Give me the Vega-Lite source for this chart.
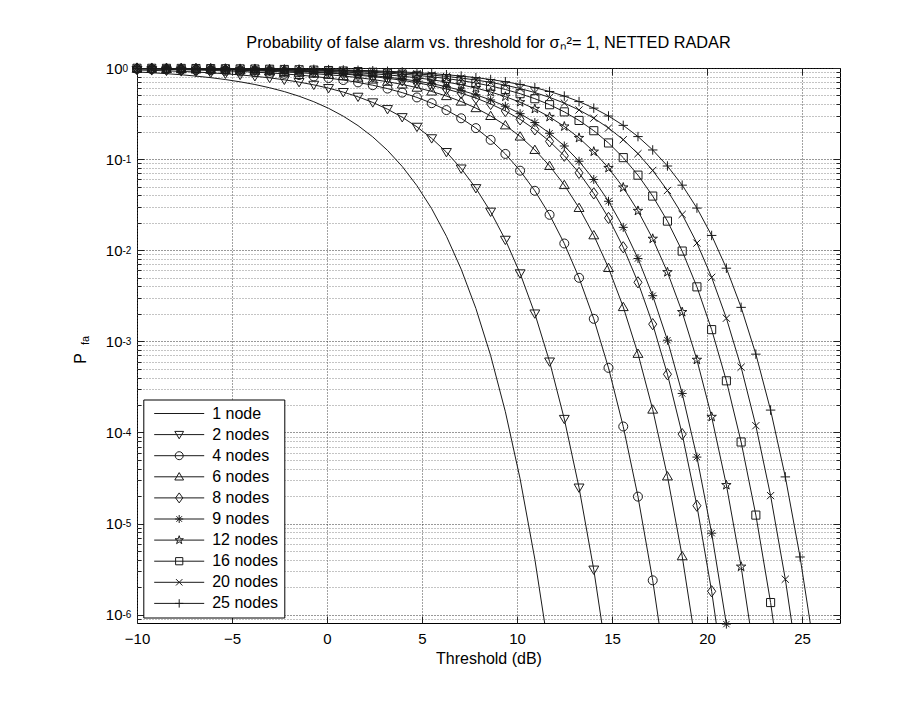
{
  "$schema": "https://vega.github.io/schema/vega-lite/v6.json",
  "autosize": {"type": "none"},
  "width": 703,
  "height": 555,
  "padding": {"left": 137, "top": 68, "right": 82, "bottom": 79},
  "background": "#ffffff",
  "title": {
    "text": "Probability of false alarm vs. threshold for σₙ²= 1, NETTED RADAR",
    "font": "Liberation Sans",
    "fontSize": 16.3,
    "fontWeight": "normal",
    "color": "#000",
    "anchor": "middle",
    "offset": 10
  },
  "data": {"values": [
    {"s":"1 node","x":-10,"p":0.9048},{"s":"1 node","x":-9.224,"p":0.8873},{"s":"1 node","x":-8.449,"p":0.8668},{"s":"1 node","x":-7.673,"p":0.8429},{"s":"1 node","x":-6.898,"p":0.8152},{"s":"1 node","x":-6.122,"p":0.7833},{"s":"1 node","x":-5.347,"p":0.7468},{"s":"1 node","x":-4.571,"p":0.7053},{"s":"1 node","x":-3.796,"p":0.6588},{"s":"1 node","x":-3.02,"p":0.6072},{"s":"1 node","x":-2.245,"p":0.5508},{"s":"1 node","x":-1.469,"p":0.4901},{"s":"1 node","x":-0.694,"p":0.4264},{"s":"1 node","x":0.082,"p":0.361},{"s":"1 node","x":0.857,"p":0.2958},{"s":"1 node","x":1.633,"p":0.2331},{"s":"1 node","x":2.408,"p":0.1753},{"s":"1 node","x":3.184,"p":0.1247},{"s":"1 node","x":3.959,"p":0.08302},{"s":"1 node","x":4.735,"p":0.05104},{"s":"1 node","x":5.51,"p":0.02853},{"s":"1 node","x":6.286,"p":0.01423},{"s":"1 node","x":7.061,"p":0.006196},{"s":"1 node","x":7.837,"p":0.002293},{"s":"1 node","x":8.612,"p":0.0006986},{"s":"1 node","x":9.388,"p":0.0001687},{"s":"1 node","x":10.163,"p":0.00003096},{"s":"1 node","x":10.939,"p":0.000004064},{"s":"1 node","x":11.714,"p":3.588e-7},
    {"s":"2 nodes","x":-10,"p":0.9512},{"s":"2 nodes","x":-9.224,"p":0.942},{"s":"2 nodes","x":-8.449,"p":0.931},{"s":"2 nodes","x":-7.673,"p":0.9181},{"s":"2 nodes","x":-6.898,"p":0.9029},{"s":"2 nodes","x":-6.122,"p":0.8851},{"s":"2 nodes","x":-5.347,"p":0.8642},{"s":"2 nodes","x":-4.571,"p":0.8399},{"s":"2 nodes","x":-3.796,"p":0.8117},{"s":"2 nodes","x":-3.02,"p":0.7793},{"s":"2 nodes","x":-2.245,"p":0.7422},{"s":"2 nodes","x":-1.469,"p":0.7001},{"s":"2 nodes","x":-0.694,"p":0.653},{"s":"2 nodes","x":0.082,"p":0.6008},{"s":"2 nodes","x":0.857,"p":0.5438},{"s":"2 nodes","x":1.633,"p":0.4828},{"s":"2 nodes","x":2.408,"p":0.4187},{"s":"2 nodes","x":3.184,"p":0.3532},{"s":"2 nodes","x":3.959,"p":0.2881},{"s":"2 nodes","x":4.735,"p":0.2259},{"s":"2 nodes","x":5.51,"p":0.1689},{"s":"2 nodes","x":6.286,"p":0.1193},{"s":"2 nodes","x":7.061,"p":0.07871},{"s":"2 nodes","x":7.837,"p":0.04788},{"s":"2 nodes","x":8.612,"p":0.02643},{"s":"2 nodes","x":9.388,"p":0.01299},{"s":"2 nodes","x":10.163,"p":0.005564},{"s":"2 nodes","x":10.939,"p":0.002016},{"s":"2 nodes","x":11.714,"p":0.0005989},{"s":"2 nodes","x":12.49,"p":0.0001404},{"s":"2 nodes","x":13.265,"p":0.00002477},{"s":"2 nodes","x":14.041,"p":0.000003114},{"s":"2 nodes","x":14.816,"p":2.61e-7},
    {"s":"4 nodes","x":-10,"p":0.9753},{"s":"4 nodes","x":-9.224,"p":0.9706},{"s":"4 nodes","x":-8.449,"p":0.9649},{"s":"4 nodes","x":-7.673,"p":0.9582},{"s":"4 nodes","x":-6.898,"p":0.9502},{"s":"4 nodes","x":-6.122,"p":0.9408},{"s":"4 nodes","x":-5.347,"p":0.9296},{"s":"4 nodes","x":-4.571,"p":0.9164},{"s":"4 nodes","x":-3.796,"p":0.9009},{"s":"4 nodes","x":-3.02,"p":0.8827},{"s":"4 nodes","x":-2.245,"p":0.8615},{"s":"4 nodes","x":-1.469,"p":0.8367},{"s":"4 nodes","x":-0.694,"p":0.8081},{"s":"4 nodes","x":0.082,"p":0.7751},{"s":"4 nodes","x":0.857,"p":0.7374},{"s":"4 nodes","x":1.633,"p":0.6948},{"s":"4 nodes","x":2.408,"p":0.6471},{"s":"4 nodes","x":3.184,"p":0.5943},{"s":"4 nodes","x":3.959,"p":0.5368},{"s":"4 nodes","x":4.735,"p":0.4753},{"s":"4 nodes","x":5.51,"p":0.411},{"s":"4 nodes","x":6.286,"p":0.3454},{"s":"4 nodes","x":7.061,"p":0.2806},{"s":"4 nodes","x":7.837,"p":0.2188},{"s":"4 nodes","x":8.612,"p":0.1626},{"s":"4 nodes","x":9.388,"p":0.114},{"s":"4 nodes","x":10.163,"p":0.07459},{"s":"4 nodes","x":10.939,"p":0.0449},{"s":"4 nodes","x":11.714,"p":0.02447},{"s":"4 nodes","x":12.49,"p":0.01185},{"s":"4 nodes","x":13.265,"p":0.004977},{"s":"4 nodes","x":14.041,"p":0.001765},{"s":"4 nodes","x":14.816,"p":0.0005109},{"s":"4 nodes","x":15.592,"p":0.0001161},{"s":"4 nodes","x":16.367,"p":0.00001973},{"s":"4 nodes","x":17.143,"p":0.000002379},{"s":"4 nodes","x":17.918,"p":1.892e-7},
    {"s":"6 nodes","x":-10,"p":0.9835},{"s":"6 nodes","x":-9.224,"p":0.9803},{"s":"6 nodes","x":-8.449,"p":0.9765},{"s":"6 nodes","x":-7.673,"p":0.9719},{"s":"6 nodes","x":-6.898,"p":0.9665},{"s":"6 nodes","x":-6.122,"p":0.9601},{"s":"6 nodes","x":-5.347,"p":0.9525},{"s":"6 nodes","x":-4.571,"p":0.9435},{"s":"6 nodes","x":-3.796,"p":0.9328},{"s":"6 nodes","x":-3.02,"p":0.9202},{"s":"6 nodes","x":-2.245,"p":0.9054},{"s":"6 nodes","x":-1.469,"p":0.888},{"s":"6 nodes","x":-0.694,"p":0.8676},{"s":"6 nodes","x":0.082,"p":0.8438},{"s":"6 nodes","x":0.857,"p":0.8163},{"s":"6 nodes","x":1.633,"p":0.7845},{"s":"6 nodes","x":2.408,"p":0.7481},{"s":"6 nodes","x":3.184,"p":0.7069},{"s":"6 nodes","x":3.959,"p":0.6605},{"s":"6 nodes","x":4.735,"p":0.609},{"s":"6 nodes","x":5.51,"p":0.5528},{"s":"6 nodes","x":6.286,"p":0.4923},{"s":"6 nodes","x":7.061,"p":0.4286},{"s":"6 nodes","x":7.837,"p":0.3631},{"s":"6 nodes","x":8.612,"p":0.2979},{"s":"6 nodes","x":9.388,"p":0.2351},{"s":"6 nodes","x":10.163,"p":0.1772},{"s":"6 nodes","x":10.939,"p":0.1263},{"s":"6 nodes","x":11.714,"p":0.08429},{"s":"6 nodes","x":12.49,"p":0.05197},{"s":"6 nodes","x":13.265,"p":0.02915},{"s":"6 nodes","x":14.041,"p":0.0146},{"s":"6 nodes","x":14.816,"p":0.006391},{"s":"6 nodes","x":15.592,"p":0.00238},{"s":"6 nodes","x":16.367,"p":0.0007302},{"s":"6 nodes","x":17.143,"p":0.0001782},{"s":"6 nodes","x":17.918,"p":0.00003295},{"s":"6 nodes","x":18.694,"p":0.00000438},{"s":"6 nodes","x":19.469,"p":3.925e-7},
    {"s":"8 nodes","x":-10,"p":0.9876},{"s":"8 nodes","x":-9.224,"p":0.9852},{"s":"8 nodes","x":-8.449,"p":0.9823},{"s":"8 nodes","x":-7.673,"p":0.9789},{"s":"8 nodes","x":-6.898,"p":0.9748},{"s":"8 nodes","x":-6.122,"p":0.9699},{"s":"8 nodes","x":-5.347,"p":0.9642},{"s":"8 nodes","x":-4.571,"p":0.9573},{"s":"8 nodes","x":-3.796,"p":0.9492},{"s":"8 nodes","x":-3.02,"p":0.9395},{"s":"8 nodes","x":-2.245,"p":0.9282},{"s":"8 nodes","x":-1.469,"p":0.9147},{"s":"8 nodes","x":-0.694,"p":0.8989},{"s":"8 nodes","x":0.082,"p":0.8804},{"s":"8 nodes","x":0.857,"p":0.8588},{"s":"8 nodes","x":1.633,"p":0.8336},{"s":"8 nodes","x":2.408,"p":0.8044},{"s":"8 nodes","x":3.184,"p":0.7709},{"s":"8 nodes","x":3.959,"p":0.7326},{"s":"8 nodes","x":4.735,"p":0.6894},{"s":"8 nodes","x":5.51,"p":0.6411},{"s":"8 nodes","x":6.286,"p":0.5877},{"s":"8 nodes","x":7.061,"p":0.5297},{"s":"8 nodes","x":7.837,"p":0.4678},{"s":"8 nodes","x":8.612,"p":0.4032},{"s":"8 nodes","x":9.388,"p":0.3376},{"s":"8 nodes","x":10.163,"p":0.2731},{"s":"8 nodes","x":10.939,"p":0.2119},{"s":"8 nodes","x":11.714,"p":0.1565},{"s":"8 nodes","x":12.49,"p":0.1088},{"s":"8 nodes","x":13.265,"p":0.07055},{"s":"8 nodes","x":14.041,"p":0.04201},{"s":"8 nodes","x":14.816,"p":0.0226},{"s":"8 nodes","x":15.592,"p":0.01077},{"s":"8 nodes","x":16.367,"p":0.004442},{"s":"8 nodes","x":17.143,"p":0.001543},{"s":"8 nodes","x":17.918,"p":0.000435},{"s":"8 nodes","x":18.694,"p":0.00009575},{"s":"8 nodes","x":19.469,"p":0.00001568},{"s":"8 nodes","x":20.245,"p":0.000001803},{"s":"8 nodes","x":21.02,"p":1.357e-7},
    {"s":"9 nodes","x":-10,"p":0.989},{"s":"9 nodes","x":-9.224,"p":0.9868},{"s":"9 nodes","x":-8.449,"p":0.9842},{"s":"9 nodes","x":-7.673,"p":0.9812},{"s":"9 nodes","x":-6.898,"p":0.9776},{"s":"9 nodes","x":-6.122,"p":0.9732},{"s":"9 nodes","x":-5.347,"p":0.9681},{"s":"9 nodes","x":-4.571,"p":0.962},{"s":"9 nodes","x":-3.796,"p":0.9547},{"s":"9 nodes","x":-3.02,"p":0.9461},{"s":"9 nodes","x":-2.245,"p":0.9359},{"s":"9 nodes","x":-1.469,"p":0.9238},{"s":"9 nodes","x":-0.694,"p":0.9096},{"s":"9 nodes","x":0.082,"p":0.893},{"s":"9 nodes","x":0.857,"p":0.8734},{"s":"9 nodes","x":1.633,"p":0.8506},{"s":"9 nodes","x":2.408,"p":0.8241},{"s":"9 nodes","x":3.184,"p":0.7935},{"s":"9 nodes","x":3.959,"p":0.7584},{"s":"9 nodes","x":4.735,"p":0.7185},{"s":"9 nodes","x":5.51,"p":0.6735},{"s":"9 nodes","x":6.286,"p":0.6234},{"s":"9 nodes","x":7.061,"p":0.5684},{"s":"9 nodes","x":7.837,"p":0.509},{"s":"9 nodes","x":8.612,"p":0.446},{"s":"9 nodes","x":9.388,"p":0.3809},{"s":"9 nodes","x":10.163,"p":0.3155},{"s":"9 nodes","x":10.939,"p":0.2518},{"s":"9 nodes","x":11.714,"p":0.1922},{"s":"9 nodes","x":12.49,"p":0.1393},{"s":"9 nodes","x":13.265,"p":0.09472},{"s":"9 nodes","x":14.041,"p":0.05975},{"s":"9 nodes","x":14.816,"p":0.03444},{"s":"9 nodes","x":15.592,"p":0.01782},{"s":"9 nodes","x":16.367,"p":0.008109},{"s":"9 nodes","x":17.143,"p":0.003167},{"s":"9 nodes","x":17.918,"p":0.001028},{"s":"9 nodes","x":18.694,"p":0.0002677},{"s":"9 nodes","x":19.469,"p":0.0000536},{"s":"9 nodes","x":20.245,"p":0.000007837},{"s":"9 nodes","x":21.02,"p":7.866e-7},{"s":"9 nodes","x":21.796,"p":5.04e-8},
    {"s":"12 nodes","x":-10,"p":0.9917},{"s":"12 nodes","x":-9.224,"p":0.9901},{"s":"12 nodes","x":-8.449,"p":0.9882},{"s":"12 nodes","x":-7.673,"p":0.9859},{"s":"12 nodes","x":-6.898,"p":0.9831},{"s":"12 nodes","x":-6.122,"p":0.9799},{"s":"12 nodes","x":-5.347,"p":0.976},{"s":"12 nodes","x":-4.571,"p":0.9713},{"s":"12 nodes","x":-3.796,"p":0.9658},{"s":"12 nodes","x":-3.02,"p":0.9593},{"s":"12 nodes","x":-2.245,"p":0.9515},{"s":"12 nodes","x":-1.469,"p":0.9423},{"s":"12 nodes","x":-0.694,"p":0.9314},{"s":"12 nodes","x":0.082,"p":0.9186},{"s":"12 nodes","x":0.857,"p":0.9035},{"s":"12 nodes","x":1.633,"p":0.8857},{"s":"12 nodes","x":2.408,"p":0.8649},{"s":"12 nodes","x":3.184,"p":0.8407},{"s":"12 nodes","x":3.959,"p":0.8127},{"s":"12 nodes","x":4.735,"p":0.7804},{"s":"12 nodes","x":5.51,"p":0.7435},{"s":"12 nodes","x":6.286,"p":0.7016},{"s":"12 nodes","x":7.061,"p":0.6547},{"s":"12 nodes","x":7.837,"p":0.6026},{"s":"12 nodes","x":8.612,"p":0.5458},{"s":"12 nodes","x":9.388,"p":0.4849},{"s":"12 nodes","x":10.163,"p":0.421},{"s":"12 nodes","x":10.939,"p":0.3554},{"s":"12 nodes","x":11.714,"p":0.2903},{"s":"12 nodes","x":12.49,"p":0.228},{"s":"12 nodes","x":13.265,"p":0.1707},{"s":"12 nodes","x":14.041,"p":0.1208},{"s":"12 nodes","x":14.816,"p":0.07994},{"s":"12 nodes","x":15.592,"p":0.04878},{"s":"12 nodes","x":16.367,"p":0.02702},{"s":"12 nodes","x":17.143,"p":0.01335},{"s":"12 nodes","x":17.918,"p":0.005741},{"s":"12 nodes","x":18.694,"p":0.002093},{"s":"12 nodes","x":19.469,"p":0.0006265},{"s":"12 nodes","x":20.245,"p":0.0001481},{"s":"12 nodes","x":21.02,"p":0.00002641},{"s":"12 nodes","x":21.796,"p":0.000003361},{"s":"12 nodes","x":22.571,"p":2.859e-7},
    {"s":"16 nodes","x":-10,"p":0.9938},{"s":"16 nodes","x":-9.224,"p":0.9926},{"s":"16 nodes","x":-8.449,"p":0.9911},{"s":"16 nodes","x":-7.673,"p":0.9894},{"s":"16 nodes","x":-6.898,"p":0.9873},{"s":"16 nodes","x":-6.122,"p":0.9849},{"s":"16 nodes","x":-5.347,"p":0.9819},{"s":"16 nodes","x":-4.571,"p":0.9784},{"s":"16 nodes","x":-3.796,"p":0.9743},{"s":"16 nodes","x":-3.02,"p":0.9693},{"s":"16 nodes","x":-2.245,"p":0.9634},{"s":"16 nodes","x":-1.469,"p":0.9564},{"s":"16 nodes","x":-0.694,"p":0.9481},{"s":"16 nodes","x":0.082,"p":0.9383},{"s":"16 nodes","x":0.857,"p":0.9267},{"s":"16 nodes","x":1.633,"p":0.913},{"s":"16 nodes","x":2.408,"p":0.8969},{"s":"16 nodes","x":3.184,"p":0.878},{"s":"16 nodes","x":3.959,"p":0.856},{"s":"16 nodes","x":4.735,"p":0.8303},{"s":"16 nodes","x":5.51,"p":0.8007},{"s":"16 nodes","x":6.286,"p":0.7666},{"s":"16 nodes","x":7.061,"p":0.7278},{"s":"16 nodes","x":7.837,"p":0.684},{"s":"16 nodes","x":8.612,"p":0.635},{"s":"16 nodes","x":9.388,"p":0.581},{"s":"16 nodes","x":10.163,"p":0.5226},{"s":"16 nodes","x":10.939,"p":0.4603},{"s":"16 nodes","x":11.714,"p":0.3955},{"s":"16 nodes","x":12.49,"p":0.3299},{"s":"16 nodes","x":13.265,"p":0.2656},{"s":"16 nodes","x":14.041,"p":0.205},{"s":"16 nodes","x":14.816,"p":0.1504},{"s":"16 nodes","x":15.592,"p":0.1038},{"s":"16 nodes","x":16.367,"p":0.06665},{"s":"16 nodes","x":17.143,"p":0.03928},{"s":"16 nodes","x":17.918,"p":0.02086},{"s":"16 nodes","x":18.694,"p":0.009785},{"s":"16 nodes","x":19.469,"p":0.00396},{"s":"16 nodes","x":20.245,"p":0.001343},{"s":"16 nodes","x":21.02,"p":0.0003684},{"s":"16 nodes","x":21.796,"p":0.0000785},{"s":"16 nodes","x":22.571,"p":0.00001237},{"s":"16 nodes","x":23.347,"p":0.000001357},{"s":"16 nodes","x":24.122,"p":9.7e-8},
    {"s":"20 nodes","x":-10,"p":0.995},{"s":"20 nodes","x":-9.224,"p":0.994},{"s":"20 nodes","x":-8.449,"p":0.9929},{"s":"20 nodes","x":-7.673,"p":0.9915},{"s":"20 nodes","x":-6.898,"p":0.9898},{"s":"20 nodes","x":-6.122,"p":0.9879},{"s":"20 nodes","x":-5.347,"p":0.9855},{"s":"20 nodes","x":-4.571,"p":0.9827},{"s":"20 nodes","x":-3.796,"p":0.9794},{"s":"20 nodes","x":-3.02,"p":0.9754},{"s":"20 nodes","x":-2.245,"p":0.9706},{"s":"20 nodes","x":-1.469,"p":0.965},{"s":"20 nodes","x":-0.694,"p":0.9583},{"s":"20 nodes","x":0.082,"p":0.9503},{"s":"20 nodes","x":0.857,"p":0.9409},{"s":"20 nodes","x":1.633,"p":0.9298},{"s":"20 nodes","x":2.408,"p":0.9166},{"s":"20 nodes","x":3.184,"p":0.9012},{"s":"20 nodes","x":3.959,"p":0.883},{"s":"20 nodes","x":4.735,"p":0.8618},{"s":"20 nodes","x":5.51,"p":0.8371},{"s":"20 nodes","x":6.286,"p":0.8085},{"s":"20 nodes","x":7.061,"p":0.7755},{"s":"20 nodes","x":7.837,"p":0.7379},{"s":"20 nodes","x":8.612,"p":0.6954},{"s":"20 nodes","x":9.388,"p":0.6477},{"s":"20 nodes","x":10.163,"p":0.595},{"s":"20 nodes","x":10.939,"p":0.5376},{"s":"20 nodes","x":11.714,"p":0.4762},{"s":"20 nodes","x":12.49,"p":0.4118},{"s":"20 nodes","x":13.265,"p":0.3463},{"s":"20 nodes","x":14.041,"p":0.2814},{"s":"20 nodes","x":14.816,"p":0.2196},{"s":"20 nodes","x":15.592,"p":0.1633},{"s":"20 nodes","x":16.367,"p":0.1146},{"s":"20 nodes","x":17.143,"p":0.07504},{"s":"20 nodes","x":17.918,"p":0.04522},{"s":"20 nodes","x":18.694,"p":0.02469},{"s":"20 nodes","x":19.469,"p":0.01197},{"s":"20 nodes","x":20.245,"p":0.005039},{"s":"20 nodes","x":21.02,"p":0.001791},{"s":"20 nodes","x":21.796,"p":0.0005198},{"s":"20 nodes","x":22.571,"p":0.0001185},{"s":"20 nodes","x":23.347,"p":0.00002024},{"s":"20 nodes","x":24.122,"p":0.000002445},{"s":"20 nodes","x":24.898,"p":1.954e-7},
    {"s":"25 nodes","x":-10,"p":0.996},{"s":"25 nodes","x":-9.224,"p":0.9952},{"s":"25 nodes","x":-8.449,"p":0.9943},{"s":"25 nodes","x":-7.673,"p":0.9932},{"s":"25 nodes","x":-6.898,"p":0.9919},{"s":"25 nodes","x":-6.122,"p":0.9903},{"s":"25 nodes","x":-5.347,"p":0.9884},{"s":"25 nodes","x":-4.571,"p":0.9861},{"s":"25 nodes","x":-3.796,"p":0.9834},{"s":"25 nodes","x":-3.02,"p":0.9802},{"s":"25 nodes","x":-2.245,"p":0.9764},{"s":"25 nodes","x":-1.469,"p":0.9719},{"s":"25 nodes","x":-0.694,"p":0.9665},{"s":"25 nodes","x":0.082,"p":0.9601},{"s":"25 nodes","x":0.857,"p":0.9524},{"s":"25 nodes","x":1.633,"p":0.9434},{"s":"25 nodes","x":2.408,"p":0.9327},{"s":"25 nodes","x":3.184,"p":0.9201},{"s":"25 nodes","x":3.959,"p":0.9053},{"s":"25 nodes","x":4.735,"p":0.8878},{"s":"25 nodes","x":5.51,"p":0.8674},{"s":"25 nodes","x":6.286,"p":0.8436},{"s":"25 nodes","x":7.061,"p":0.816},{"s":"25 nodes","x":7.837,"p":0.7842},{"s":"25 nodes","x":8.612,"p":0.7478},{"s":"25 nodes","x":9.388,"p":0.7065},{"s":"25 nodes","x":10.163,"p":0.6601},{"s":"25 nodes","x":10.939,"p":0.6086},{"s":"25 nodes","x":11.714,"p":0.5523},{"s":"25 nodes","x":12.49,"p":0.4918},{"s":"25 nodes","x":13.265,"p":0.4281},{"s":"25 nodes","x":14.041,"p":0.3626},{"s":"25 nodes","x":14.816,"p":0.2974},{"s":"25 nodes","x":15.592,"p":0.2346},{"s":"25 nodes","x":16.367,"p":0.1767},{"s":"25 nodes","x":17.143,"p":0.126},{"s":"25 nodes","x":17.918,"p":0.084},{"s":"25 nodes","x":18.694,"p":0.05176},{"s":"25 nodes","x":19.469,"p":0.02901},{"s":"25 nodes","x":20.245,"p":0.01452},{"s":"25 nodes","x":21.02,"p":0.006346},{"s":"25 nodes","x":21.796,"p":0.002359},{"s":"25 nodes","x":22.571,"p":0.0007228},{"s":"25 nodes","x":23.347,"p":0.0001758},{"s":"25 nodes","x":24.122,"p":0.00003248},{"s":"25 nodes","x":24.898,"p":0.000004294},{"s":"25 nodes","x":25.673,"p":3.832e-7}
  ]},
  "layer": [
    {
      "mark": {"type": "line", "color": "#1a1a1a", "strokeWidth": 1, "clip": true},
      "encoding": {
        "x": {"field": "x", "type": "quantitative",
          "scale": {"domain": [-10, 27], "nice": false, "zero": false},
          "axis": {"orient": "bottom", "values": [-10, -5, 0, 5, 10, 15, 20, 25], "grid": true, "gridDash": [1, 2], "gridColor": "#444", "gridWidth": 1,
            "ticks": false, "domain": false, "labelFlush": false, "labelFontSize": 15, "labelPadding": 8, "labelColor": "#000",
            "title": "Threshold (dB)", "titleFontSize": 16, "titleFontWeight": "normal", "titleColor": "#000", "titlePadding": 4}},
        "y": {"field": "p", "type": "quantitative",
          "scale": {"type": "log", "domain": [8.09e-7, 1], "nice": false},
          "axis": {"orient": "left", "values": [9e-7, 1e-6, 2e-6, 3e-6, 4e-6, 5e-6, 6e-6, 7e-6, 8e-6, 9e-6, 1e-5, 2e-5, 3e-5, 4e-5, 5e-5, 6e-5, 7e-5, 8e-5, 9e-5, 1e-4, 2e-4, 3e-4, 4e-4, 5e-4, 6e-4, 7e-4, 8e-4, 9e-4, 0.001, 0.002, 0.003, 0.004, 0.005, 0.006, 0.007, 0.008, 0.009, 0.01, 0.02, 0.03, 0.04, 0.05, 0.06, 0.07, 0.08, 0.09, 0.1, 0.2, 0.3, 0.4, 0.5, 0.6, 0.7, 0.8, 0.9, 1],
            "grid": true, "gridDash": [1, 2], "gridWidth": 1,
            "gridColor": {"condition": {"test": "abs(log(datum.value)/LN10 - round(log(datum.value)/LN10)) < 0.001", "value": "#333"}, "value": "#888"},
            "ticks": false, "domain": false, "labelOverlap": false, "labelFontSize": 15, "labelPadding": 15, "labelColor": "#000", "labelBaseline": "middle",
            "labelExpr": "abs(log(datum.value)/LN10 - round(log(datum.value)/LN10)) < 0.001 ? '10' : ''",
            "title": "P", "titleFontSize": 16, "titleFontWeight": "normal", "titleColor": "#000", "titleAngle": 270,
            "titleX": -57, "titleY": 290, "titleAlign": "center", "titleBaseline": "middle"}},
        "detail": {"field": "s", "type": "nominal"}
      }
    },
    {
      "transform": [{"filter": "datum.s != '1 node' && datum.p >= 7.8e-7"}],
      "mark": {"type": "point", "filled": false, "stroke": "#1a1a1a", "strokeWidth": 1, "size": 81, "opacity": 1, "clip": false},
      "encoding": {
        "x": {"field": "x", "type": "quantitative",
          "scale": {"domain": [-10, 27], "nice": false, "zero": false},
          "axis": {"orient": "top", "values": [-10, -5, 0, 5, 10, 15, 20, 25], "grid": false, "labels": false, "domain": false, "title": null,
            "ticks": true, "tickSize": -7, "tickColor": "#222", "tickWidth": 1}},
        "y": {"field": "p", "type": "quantitative",
          "scale": {"type": "log", "domain": [8.09e-7, 1], "nice": false},
          "axis": {"orient": "right", "values": [9e-7, 1e-6, 2e-6, 3e-6, 4e-6, 5e-6, 6e-6, 7e-6, 8e-6, 9e-6, 1e-5, 2e-5, 3e-5, 4e-5, 5e-5, 6e-5, 7e-5, 8e-5, 9e-5, 1e-4, 2e-4, 3e-4, 4e-4, 5e-4, 6e-4, 7e-4, 8e-4, 9e-4, 0.001, 0.002, 0.003, 0.004, 0.005, 0.006, 0.007, 0.008, 0.009, 0.01, 0.02, 0.03, 0.04, 0.05, 0.06, 0.07, 0.08, 0.09, 0.1, 0.2, 0.3, 0.4, 0.5, 0.6, 0.7, 0.8, 0.9, 1],
            "grid": false, "labels": false, "domain": false, "title": null, "ticks": true, "tickSize": -4, "tickColor": "#222", "tickWidth": 1}},
        "shape": {"field": "s", "type": "nominal",
          "scale": {
            "domain": ["1 node", "2 nodes", "4 nodes", "6 nodes", "8 nodes", "9 nodes", "12 nodes", "16 nodes", "20 nodes", "25 nodes"],
            "range": [
              "M0,0",
              "M-1.1,-0.8L1.1,-0.8L0,1.05Z",
              "M1,0A1,1,0,1,1,-1,0A1,1,0,1,1,1,0Z",
              "M-1.1,0.8L1.1,0.8L0,-1.05Z",
              "M0,-1.25L0.9,0L0,1.25L-0.9,0Z",
              "M0,-1L0,1M-1,0L1,0M-0.7,-0.7L0.7,0.7M-0.7,0.7L0.7,-0.7",
              "M0,-1.1L0.247,-0.34L1.046,-0.34L0.4,0.13L0.647,0.89L0,0.42L-0.647,0.89L-0.4,0.13L-1.046,-0.34L-0.247,-0.34Z",
              "M-0.9,-0.9L0.9,-0.9L0.9,0.9L-0.9,0.9Z",
              "M-0.8,-0.8L0.8,0.8M-0.8,0.8L0.8,-0.8",
              "M0,-1.05L0,1.05M-1.05,0L1.05,0"
            ]},
          "legend": null
        }
      }
    },
    {
      "transform": [{"filter": "datum.s == '1 node' && datum.x == -10"}],
      "mark": {"type": "point", "opacity": 0},
      "encoding": {
        "x": {"field": "x", "type": "quantitative",
          "scale": {"domain": [-10, 27], "nice": false, "zero": false},
          "axis": {"orient": "bottom", "values": [-10, -5, 0, 5, 10, 15, 20, 25], "grid": false, "labels": false, "domain": false, "title": null,
            "ticks": true, "tickSize": -7, "tickColor": "#222", "tickWidth": 1}},
        "y": {"field": "p", "type": "quantitative",
          "scale": {"type": "log", "domain": [8.09e-7, 1], "nice": false},
          "axis": {"orient": "left", "values": [9e-7, 1e-6, 2e-6, 3e-6, 4e-6, 5e-6, 6e-6, 7e-6, 8e-6, 9e-6, 1e-5, 2e-5, 3e-5, 4e-5, 5e-5, 6e-5, 7e-5, 8e-5, 9e-5, 1e-4, 2e-4, 3e-4, 4e-4, 5e-4, 6e-4, 7e-4, 8e-4, 9e-4, 0.001, 0.002, 0.003, 0.004, 0.005, 0.006, 0.007, 0.008, 0.009, 0.01, 0.02, 0.03, 0.04, 0.05, 0.06, 0.07, 0.08, 0.09, 0.1, 0.2, 0.3, 0.4, 0.5, 0.6, 0.7, 0.8, 0.9, 1],
            "grid": false, "domain": false, "ticks": true, "tickSize": -4, "tickColor": "#222", "tickWidth": 1,
            "labelOverlap": false, "labelFontSize": 10, "labelPadding": 19, "labelAlign": "left", "labelBaseline": "middle", "labelDy": -6, "labelColor": "#000",
            "labelExpr": "abs(log(datum.value)/LN10 - round(log(datum.value)/LN10)) < 0.001 ? '' + round(log(datum.value)/LN10) : ''",
            "title": "fa", "titleFontSize": 11, "titleFontWeight": "normal", "titleColor": "#000", "titleAngle": 270,
            "titleX": -52, "titleY": 272, "titleAlign": "center", "titleBaseline": "middle"}}
      }
    },
    {
      "transform": [{"filter": "false"}],
      "mark": {"type": "point", "filled": false, "color": "#1a1a1a", "strokeWidth": 1},
      "encoding": {
        "x": {"field": "x", "type": "quantitative",
          "scale": {"domain": [-10, 27], "nice": false, "zero": false}, "axis": null},
        "y": {"field": "p", "type": "quantitative",
          "scale": {"type": "log", "domain": [8.09e-7, 1], "nice": false},
          "axis": {"orient": "right", "values": [1e-6, 1e-5, 1e-4, 0.001, 0.01, 0.1, 1],
            "grid": false, "labels": false, "domain": false, "title": null, "ticks": true, "tickSize": -7, "tickColor": "#222", "tickWidth": 1}},
        "shape": {"field": "s", "type": "nominal",
          "scale": {
            "domain": ["1 node", "2 nodes", "4 nodes", "6 nodes", "8 nodes", "9 nodes", "12 nodes", "16 nodes", "20 nodes", "25 nodes"],
            "range": [
              "M-6.25,0L6.25,0",
              "M-6.25,0L6.25,0M-1.1,-0.8L1.1,-0.8L0,1.05Z",
              "M-6.25,0L6.25,0M1,0A1,1,0,1,1,-1,0A1,1,0,1,1,1,0Z",
              "M-6.25,0L6.25,0M-1.1,0.8L1.1,0.8L0,-1.05Z",
              "M-6.25,0L6.25,0M0,-1.25L0.9,0L0,1.25L-0.9,0Z",
              "M-6.25,0L6.25,0M0,-1L0,1M-1,0L1,0M-0.7,-0.7L0.7,0.7M-0.7,0.7L0.7,-0.7",
              "M-6.25,0L6.25,0M0,-1.1L0.247,-0.34L1.046,-0.34L0.4,0.13L0.647,0.89L0,0.42L-0.647,0.89L-0.4,0.13L-1.046,-0.34L-0.247,-0.34Z",
              "M-6.25,0L6.25,0M-0.9,-0.9L0.9,-0.9L0.9,0.9L-0.9,0.9Z",
              "M-6.25,0L6.25,0M-0.8,-0.8L0.8,0.8M-0.8,0.8L0.8,-0.8",
              "M-6.25,0L6.25,0M0,-1.05L0,1.05M-1.05,0L1.05,0"
            ]},
          "legend": {
            "orient": "none", "legendX": 6.3, "legendY": 331.5, "title": null,
            "strokeColor": "#000", "fillColor": "#fff", "padding": 6,
            "symbolSize": 64, "symbolStrokeWidth": 1, "symbolStrokeColor": "#1a1a1a", "symbolFillColor": "transparent", "symbolOpacity": 1,
            "labelFont": "Liberation Sans", "labelFontSize": 16, "labelColor": "#000",
            "rowPadding": 5.1, "symbolOffset": 21.9, "labelOffset": 25
          }
        }
      }
    },
    {
      "transform": [{"filter": "false"}],
      "mark": {"type": "point", "opacity": 0},
      "encoding": {
        "x": {"field": "x", "type": "quantitative",
          "scale": {"domain": [-10, 27], "nice": false, "zero": false}, "axis": null},
        "y": {"field": "p", "type": "quantitative",
          "scale": {"type": "log", "domain": [8.09e-7, 1], "nice": false},
          "axis": {"orient": "left", "values": [1e-6, 1e-5, 1e-4, 0.001, 0.01, 0.1, 1],
            "grid": false, "labels": false, "domain": false, "title": null, "ticks": true, "tickSize": -7, "tickColor": "#222", "tickWidth": 1}}
      }
    }
  ],
  "resolve": {"axis": {"x": "independent", "y": "independent"}, "scale": {"shape": "independent"}},
  "config": {
    "font": "Liberation Sans",
    "view": {"stroke": "#000", "strokeWidth": 1},
    "axis": {"labelFont": "Liberation Sans", "titleFont": "Liberation Sans"}
  }
}
